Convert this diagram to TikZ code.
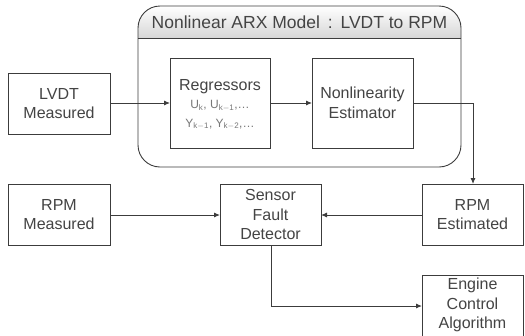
\documentclass[tikz,border=0pt]{standalone}
\usepackage{fontspec}
\setmainfont{Liberation Sans}
\usetikzlibrary{arrows.meta}
\definecolor{txt}{HTML}{444444}
\definecolor{subtxt}{HTML}{777777}
\definecolor{edge}{HTML}{3C3C3C}
\begin{document}
\begin{tikzpicture}[x=1pt,y=-1pt,
  every node/.style={font=\fontsize{16}{19.5}\selectfont,text=txt,align=center,inner sep=0pt},
  blockbox/.style={draw=edge,line width=0.9pt,fill=white},
  link/.style={draw=edge,line width=0.9pt,-{Latex[length=6pt,width=5pt]}},
  plainlink/.style={draw=edge,line width=0.9pt}]
\useasboundingbox (0,0) rectangle (525,335);

% model container with shaded header
\begin{scope}
  \clip[rounded corners=22pt] (138,6) rectangle (461,167);
  \shade[top color=white,bottom color=black!16] (138,6) rectangle (461,38);
\end{scope}
\draw[edge,line width=0.9pt,rounded corners=22pt] (138,6) rectangle (461,167);
\draw[edge,line width=0.9pt] (138,38) -- (461,38);
\node (title) at (299.5,22.5) {\fontsize{17.5}{20}\selectfont Nonlinear ARX Model\hspace{0.45em}:\hspace{0.45em}LVDT to RPM};

% blocks
\draw[blockbox] (8,73) rectangle (110,134);
\node (lvdt) at (59,103.5) {LVDT\\Measured};
\coordinate (lvdtE) at (110,103);

\draw[blockbox] (170,58) rectangle (270,148);
\node (regT) at (220,87) {Regressors};
\node (regS) at (220,115) {\fontsize{12}{15}\selectfont\color{subtxt}U$_{\mathrm{k}}$, U$_{\mathrm{k-1}}$,\dots\\[-1pt]\fontsize{12}{15}\selectfont\color{subtxt}Y$_{\mathrm{k-1}}$, Y$_{\mathrm{k-2}}$,\dots};
\coordinate (regW) at (170,103);
\coordinate (regE) at (270,103);

\draw[blockbox] (312,58) rectangle (413,148);
\node (nle) at (362.5,103) {Nonlinearity\\Estimator};
\coordinate (nleW) at (312,103);
\coordinate (nleE) at (413,103);

\draw[blockbox] (8,184) rectangle (110,245);
\node (rpmm) at (59,214.5) {RPM\\Measured};
\coordinate (rpmmE) at (110,215);

\draw[blockbox] (220,184) rectangle (321,245);
\node (sfd) at (270.5,214.5) {Sensor\\Fault\\Detector};
\coordinate (sfdW) at (220,215);
\coordinate (sfdE) at (321,215);
\coordinate (sfdS) at (271,245);

\draw[blockbox] (422,184) rectangle (523,245);
\node (rpme) at (472.5,214.5) {RPM\\Estimated};
\coordinate (rpmeN) at (473,184);
\coordinate (rpmeW) at (422,215);

\draw[blockbox] (422,275) rectangle (523,340);
\node (eca) at (472.5,305) {Engine\\Control\\Algorithm};
\coordinate (ecaW) at (422,306);

% connectors
\draw[link] (lvdtE) -- (regW);
\draw[link] (regE) -- (nleW);
\draw[link] (nleE) -| (rpmeN);
\draw[link] (rpmmE) -- (sfdW);
\draw[link] (rpmeW) -- (sfdE);
\draw[link] (sfdS) |- (ecaW);
\end{tikzpicture}
\end{document}
